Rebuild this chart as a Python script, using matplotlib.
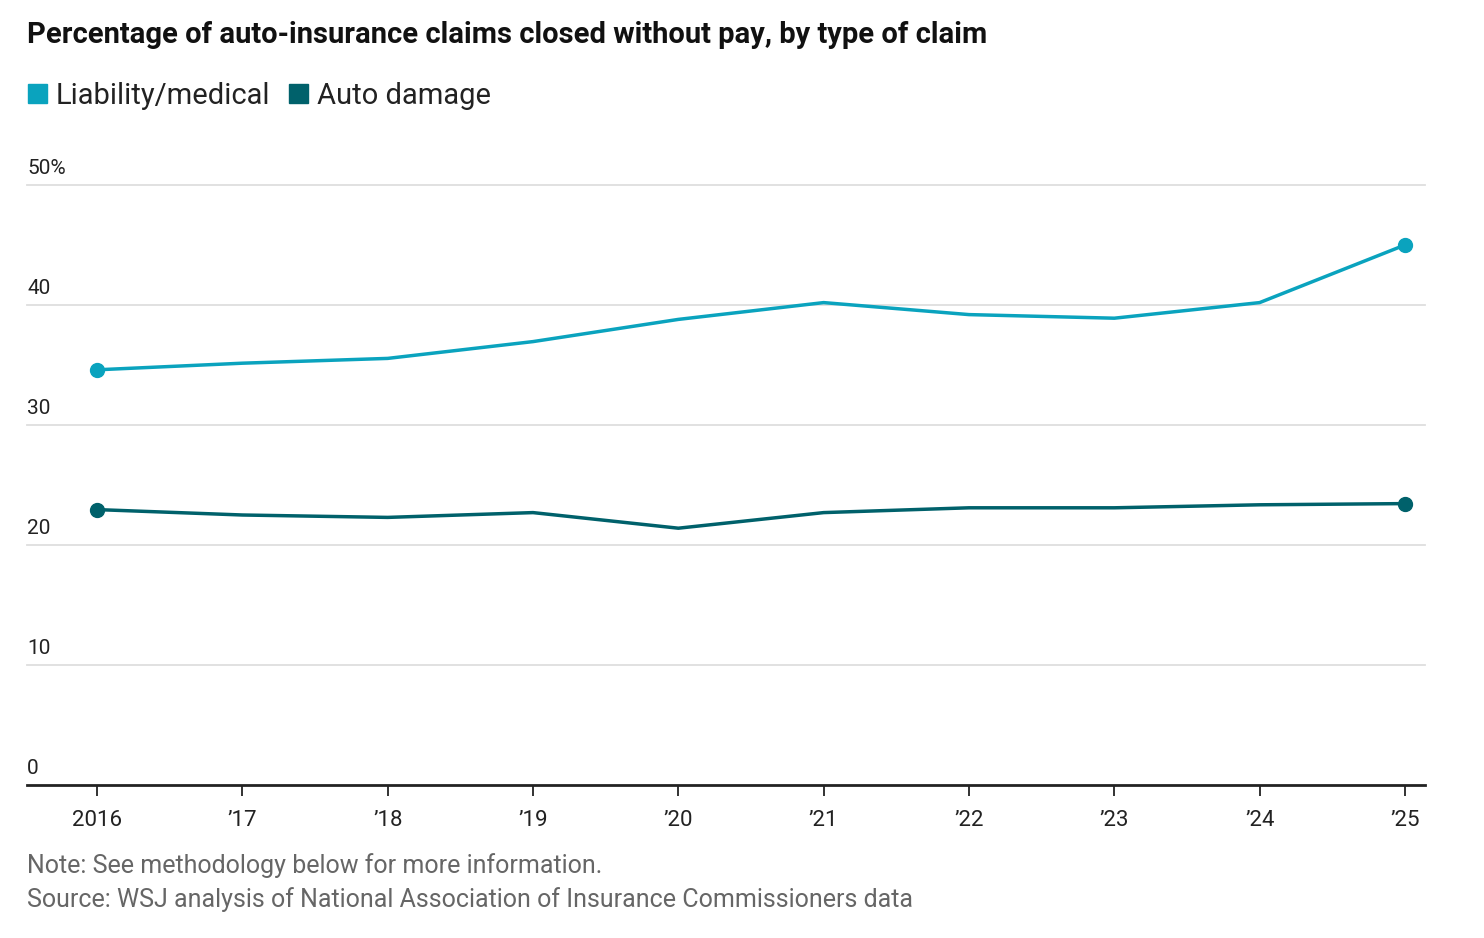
import matplotlib
matplotlib.use("Agg")
import matplotlib.pyplot as plt
from matplotlib.patches import Patch

# data
years = [2016, 2017, 2018, 2019, 2020, 2021, 2022, 2023, 2024, 2025]
year_labels = ["2016", "’17", "’18", "’19", "’20", "’21", "’22", "’23", "’24", "’25"]
liability = [34.6, 35.15, 35.55, 36.95, 38.8, 40.2, 39.2, 38.9, 40.2, 45.0]
auto_damage = [22.95, 22.5, 22.3, 22.7, 21.4, 22.7, 23.1, 23.1, 23.35, 23.45]
y_ticks = [0, 10, 20, 30, 40, 50]
y_tick_labels = ["0", "10", "20", "30", "40", "50%"]

c_liab = "#0aa3be"
c_auto = "#00616b"

plt.rcParams["font.family"] = ["Roboto", "DejaVu Sans"]

W, H = 1484, 938
fig = plt.figure(figsize=(W / 100, H / 100), dpi=100)
# axes from x=27..1425, y=185..785 (pixels)
ax = fig.add_axes([27 / W, 1 - 785 / H, (1425 - 27) / W, 600 / H])

ax.plot(years, liability, color=c_liab, lw=2.5, solid_joinstyle="round", zorder=3)
ax.plot(years, auto_damage, color=c_auto, lw=2.5, solid_joinstyle="round", zorder=3)
for series, col in [(liability, c_liab), (auto_damage, c_auto)]:
    ax.plot([years[0], years[-1]], [series[0], series[-1]], "o", color=col, ms=10, zorder=4, clip_on=False)

ax.set_xlim(2015.518, 2025.138)
ax.set_ylim(0, 50)

# grid lines
for v in y_ticks[1:]:
    ax.axhline(v, color="#dedede", lw=1.3, zorder=1, clip_on=False)
for v, lab in zip(y_ticks, y_tick_labels):
    ax.annotate(lab, xy=(0, v), xycoords=("axes fraction", "data"), xytext=(0, 5),
                textcoords="offset points", ha="left", va="bottom", fontsize=15, color="#222222")

for s in ["top", "right", "left"]:
    ax.spines[s].set_visible(False)
ax.spines["bottom"].set_color("#222222")
ax.spines["bottom"].set_linewidth(2)
ax.set_yticks([])
ax.set_xticks(years)
ax.set_xticklabels(year_labels, fontsize=16, color="#222222")
ax.tick_params(axis="x", length=8, width=1.3, color="#222222", pad=10)

fig.text(27 / W, 1 - 35 / H, "Percentage of auto-insurance claims closed without pay, by type of claim",
         fontsize=21, fontweight="bold", color="#111111", ha="left", va="center")

handles = [Patch(color=c_liab, label="Liability/medical"), Patch(color=c_auto, label="Auto damage")]
fig.legend(handles=handles, loc="center left", bbox_to_anchor=(2 / W, 1 - 96 / H), ncol=2,
           frameon=False, fontsize=21, handlelength=0.65, handleheight=0.65, handletextpad=0.3,
           columnspacing=0.65, labelcolor="#222222")

fig.text(27 / W, 1 - 866 / H, "Note: See methodology below for more information.",
         fontsize=18, color="#666666", ha="left", va="center")
fig.text(27 / W, 1 - 900 / H, "Source: WSJ analysis of National Association of Insurance Commissioners data",
         fontsize=18, color="#666666", ha="left", va="center")

fig.savefig("out.png", dpi=100)
